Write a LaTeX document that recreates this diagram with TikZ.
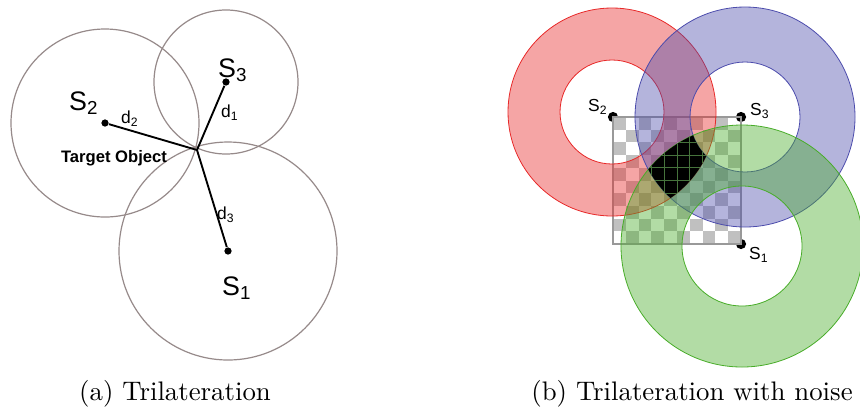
\documentclass[tikz,border=0pt]{standalone}
\usepackage{fontspec}
\usepackage{tikz}
\usetikzlibrary{positioning}
\newfontfamily\arialfont{Liberation Sans}
\definecolor{rimgray}{RGB}{150,138,138}
\definecolor{ringred}{RGB}{231,41,41}
\definecolor{ringblue}{RGB}{76,76,172}
\definecolor{ringgreen}{RGB}{72,172,41}
\definecolor{cellgray}{RGB}{192,192,192}
\definecolor{gridgreen}{RGB}{70,115,60}

\begin{document}
\begin{tikzpicture}[
    x=0.373pt, y=0.373pt,
    sensor/.style={circle, fill=black, inner sep=0pt, minimum size=2.7pt},
    bigsensor/.style={circle, fill=black, inner sep=0pt, minimum size=3.8pt},
    rangecircle/.style={draw=rimgray, line width=0.45pt},
    distline/.style={draw=black, line width=0.7pt},
    senslabel/.style={font=\arialfont\fontsize{10}{12}\selectfont, inner sep=0pt},
    smalllabel/.style={font=\arialfont\fontsize{6.5}{8}\selectfont, inner sep=0pt},
    targetlabel/.style={font=\arialfont\bfseries\fontsize{6.2}{8}\selectfont, inner sep=0pt},
    ring/.style={fill=#1, fill opacity=0.42, even odd rule},
    ringline/.style={draw=#1, line width=0.3pt},
    caption/.style={font=\normalsize, anchor=base}
]
\useasboundingbox (0,0) rectangle (860,408);

% (a) Trilateration
\node[sensor] (s2) at (105,285) {};
\node[sensor] (s3) at (226,326) {};
\node[sensor] (s1) at (228,157) {};
\coordinate (tgt) at (197,258);

% Range circles
\draw[rangecircle] (s2.center) circle (94);
\draw[rangecircle] (s3.center) circle (72);
\draw[rangecircle] (s1.center) circle (109);

% Distances to the target
\draw[distline] (s2) -- (tgt);
\draw[distline] (s3) -- (tgt);
\draw[distline] (s1) -- (tgt);

% Labels
\node[senslabel] at (84,305) {S\textsubscript{2}};
\node[senslabel] at (233,338) {S\textsubscript{3}};
\node[senslabel] at (237,120) {S\textsubscript{1}};
\node[smalllabel] at (130,289) {d\textsubscript{2}};
\node[smalllabel] at (230,295) {d\textsubscript{1}};
\node[smalllabel] at (226,193) {d\textsubscript{3}};
\node[targetlabel] at (114,250) {Target Object};

% (b) Trilateration with noise
\node[bigsensor] (s2r) at (613,291) {};
\node[bigsensor] (s3r) at (741,291) {};
\node[bigsensor] (s1r) at (741,164) {};
\coordinate (redc) at (612,296);
\coordinate (bluec) at (745,291);
\coordinate (greenc) at (742,162);

% Checker board between the sensors
\foreach \i in {0,...,9}
  \foreach \j in {0,...,9} {
    \pgfmathtruncatemacro\odd{mod(\i+\j,2)}
    \ifnum\odd=0
      \fill[cellgray] ({613+12.8*\i},{291-12.7*(\j+1)}) rectangle ++(12.8,12.7);
    \fi
  }
\draw[gray!80, line width=0.4pt] (s2r.center) rectangle (s1r.center);

% Noisy range rings
\fill[ring=ringred] (redc) circle (104) (redc) circle (52);
\draw[ringline=ringred] (redc) circle (104) (redc) circle (52);
\fill[ring=ringblue] (bluec) circle (110) (bluec) circle (55);
\draw[ringline=ringblue] (bluec) circle (110) (bluec) circle (55);
\fill[ring=ringgreen] (greenc) circle (121) (greenc) circle (60);
\draw[ringline=ringgreen] (greenc) circle (121) (greenc) circle (60);

% Common region of all rings
\begin{scope}[even odd rule]
  \clip (redc) circle (104);
  \clip (greenc) circle (121);
  \clip (bluec) circle (110) (bluec) circle (55);
  \fill[black] (s2r.center) rectangle (s1r.center);
  \foreach \k in {1,...,9} {
    \draw[gridgreen, line width=0.35pt] ({613+12.8*\k},164) -- ++(0,127);
    \draw[gridgreen, line width=0.35pt] (613,{164+12.7*\k}) -- ++(128,0);
  }
\end{scope}

% Labels
\node[smalllabel] at (598,301) {S\textsubscript{2}};
\node[smalllabel] at (760,297) {S\textsubscript{3}};
\node[smalllabel] at (759,153) {S\textsubscript{1}};

% Captions
\node[caption] (capa) at (175,8) {(a) Trilateration};
\node[caption] (capb) at (692,8) {(b) Trilateration with noise};

\end{tikzpicture}
\end{document}
